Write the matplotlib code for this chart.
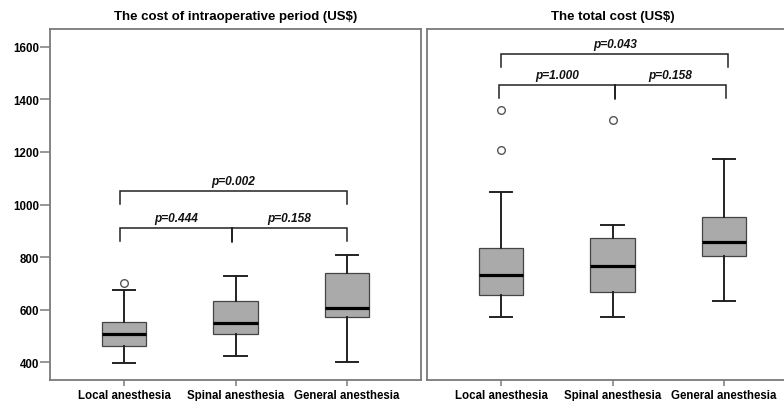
import matplotlib
matplotlib.use("Agg")
import matplotlib.pyplot as plt

plt.rcParams['font.family'] = ['Liberation Sans', 'DejaVu Sans']

# Data
groups = ["Local anesthesia", "Spinal anesthesia", "General anesthesia"]

# Intraoperative cost: [low whisker, Q1, median, Q3, high whisker]
intra_low = [396, 424, 400]
intra_q1 = [461, 508, 571]
intra_med = [508, 549, 605]
intra_q3 = [552, 634, 738]
intra_high = [675, 729, 809]
intra_fliers = [[703], [], []]

# Total cost
total_low = [573, 573, 632]
total_q1 = [656, 666, 805]
total_med = [731, 765, 857]
total_q3 = [834, 873, 952]
total_high = [1047, 922, 1174]
total_fliers = [[1207, 1359], [1322], []]

titles = ["The cost of intraoperative period (US$)", "The total cost (US$)"]

# Significance brackets: (x-left, x-right, y, label)
intra_brackets = [(0.96, 1.97, 909, "p=0.444"), (1.97, 3.0, 909, "p=0.158"),
                  (0.96, 3.0, 1050, "p=0.002")]
intra_mid_leg = [1.97]
total_brackets = [(0.98, 2.02, 1454, "p=1.000"), (2.02, 3.02, 1454, "p=0.158"),
                  (1.0, 3.04, 1571, "p=0.043")]
total_mid_leg = [2.02]

yticks = [400, 600, 800, 1000, 1200, 1400, 1600]

spine_col = "#7a7a7a"
line_col = "#222222"


def stats_of(low, q1, med, q3, high, fliers):
    out = []
    for i in range(len(low)):
        out.append(dict(whislo=low[i], q1=q1[i], med=med[i], q3=q3[i],
                        whishi=high[i], fliers=fliers[i]))
    return out


def draw_panel(ax, stats, brackets, mid_legs, title, show_y):
    ax.bxp(stats, positions=[1, 2, 3], widths=0.4, capwidths=0.2,
           patch_artist=True,
           boxprops=dict(facecolor="#aaaaaa", edgecolor="#444444", linewidth=0.9),
           medianprops=dict(color="black", linewidth=2.3),
           whiskerprops=dict(color=line_col, linewidth=1.4),
           capprops=dict(color=line_col, linewidth=1.4),
           flierprops=dict(marker="o", markersize=5.5, markerfacecolor="white",
                           markeredgecolor="#555555", markeredgewidth=1.0))
    # brackets
    leg = 48
    for x0, x1, y, lab in brackets:
        ax.plot([x0, x0, x1, x1], [y - leg, y, y, y - leg], color=line_col,
                lw=1.1, solid_joinstyle="miter")
        ax.text((x0 + x1) / 2, y + 16, lab, ha="center", va="bottom",
                fontsize=8.6, fontweight="bold", fontstyle="italic", color="#111111")
    for xm in mid_legs:
        y = brackets[0][2]
        ax.plot([xm, xm], [y, y - leg - 4], color=line_col, lw=1.1)

    ax.set_xlim(0.333, 3.667)
    ax.set_ylim(333, 1667)
    ax.set_xticks([1, 2, 3])
    ax.set_xticklabels(groups, fontsize=8.3, fontweight="bold")
    ax.tick_params(axis="x", length=4.5, width=1.1, color=spine_col, pad=2)
    if show_y:
        ax.set_yticks(yticks)
        ax.set_yticklabels([str(v) for v in yticks], fontsize=8.3, fontweight="bold")
        ax.tick_params(axis="y", length=7, width=1.1, color=spine_col, pad=1)
    else:
        ax.set_yticks([])
    for s in ax.spines.values():
        s.set_color(spine_col)
        s.set_linewidth(1.3)
    ax.set_title(title, fontsize=9.5, fontweight="bold", pad=7)


fig = plt.figure(figsize=(7.84, 4.02), dpi=100)
W, H = 784.0, 402.0
ax1 = fig.add_axes([50 / W, (H - 381) / H, 371 / W, 351 / H])
ax2 = fig.add_axes([427 / W, (H - 381) / H, 371 / W, 351 / H])

draw_panel(ax1, stats_of(intra_low, intra_q1, intra_med, intra_q3, intra_high, intra_fliers),
           intra_brackets, intra_mid_leg, titles[0], True)
draw_panel(ax2, stats_of(total_low, total_q1, total_med, total_q3, total_high, total_fliers),
           total_brackets, total_mid_leg, titles[1], False)

fig.savefig("out.png", dpi=100)
